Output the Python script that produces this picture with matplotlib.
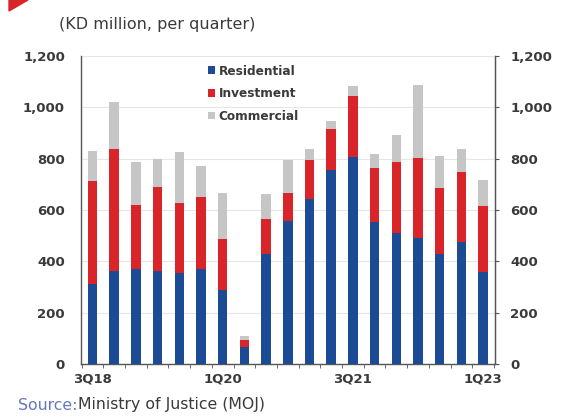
import matplotlib
matplotlib.use("Agg")
import matplotlib.pyplot as plt
from matplotlib.patches import Polygon
import numpy as np

quarters = ["3Q18", "4Q18", "1Q19", "2Q19", "3Q19", "4Q19", "1Q20", "2Q20", "3Q20", "4Q20",
            "1Q21", "2Q21", "3Q21", "4Q21", "1Q22", "2Q22", "3Q22", "4Q22", "1Q23"]
residential = [311, 363, 371, 363, 354, 370, 287, 68, 429, 559, 644, 757, 808, 552, 512, 491, 430, 474, 358]
investment = [402, 474, 249, 328, 274, 280, 199, 27, 137, 107, 150, 160, 237, 211, 276, 312, 257, 274, 256]
commercial = [117, 184, 167, 109, 198, 121, 180, 16, 95, 128, 45, 30, 38, 54, 103, 284, 122, 91, 101]
yticks = [0, 200, 400, 600, 800, 1000, 1200]
shown_labels = ["3Q18", "1Q20", "3Q21", "1Q23"]

c_res = "#1a4b94"
c_inv = "#d9252a"
c_com = "#c6c6c6"
txt = "#3a3a3a"

fig = plt.figure(figsize=(5.61, 4.18), dpi=100)
ax = fig.add_axes([81/561, 54/418, (495-81)/561, (364-56)/418])

x = np.arange(len(quarters))
res = np.array(residential)
inv = np.array(investment)
com = np.array(commercial)
w = 0.44
ax.bar(x, res, w, color=c_res, label="Residential", zorder=3)
ax.bar(x, inv, w, bottom=res, color=c_inv, label="Investment", zorder=3)
ax.bar(x, com, w, bottom=res + inv, color=c_com, label="Commercial", zorder=3)

ax.set_xlim(-0.53, len(quarters) - 1 + 0.55)
ax.set_ylim(0, 1200)
ax.set_yticks(yticks)
ax.set_yticklabels([f"{v:,}" for v in yticks], fontsize=9.5, color=txt, fontweight="bold")
ax.yaxis.grid(True, color="#e6e6e6", linewidth=0.8, zorder=0)
ax.set_axisbelow(True)

ax.set_xticks(x)
ax.set_xticklabels([q if q in shown_labels else "" for q in quarters], fontsize=9.5,
                   color=txt, fontweight="bold")
ax.tick_params(axis="x", length=0, pad=6)
ax.set_xticks(np.arange(-0.5, len(quarters), 1), minor=True)
ax.tick_params(axis="x", which="minor", length=3, color="#555555", direction="out")
ax.tick_params(axis="y", length=0, pad=11.5)

ax.spines["top"].set_visible(False)
for s in ["left", "right", "bottom"]:
    ax.spines[s].set_color("#555555")
    ax.spines[s].set_linewidth(1.0)

ax2 = ax.twinx()
ax2.set_ylim(0, 1200)
ax2.set_yticks(yticks)
ax2.set_yticklabels([f"{v:,}" for v in yticks], fontsize=9.5, color=txt, fontweight="bold")
ax2.tick_params(axis="y", length=3, color="#555555", direction="out", pad=8)
ax2.spines["top"].set_visible(False)
ax2.spines["left"].set_visible(False)
ax2.spines["bottom"].set_visible(False)
ax2.spines["right"].set_color("#555555")

leg = ax.legend(loc="upper left", bbox_to_anchor=(0.295, 0.988), frameon=False,
                prop={"size": 8.7, "weight": "bold"},
                handlelength=0.6, handleheight=0.6, handletextpad=0.3, labelspacing=0.8,
                borderaxespad=0)
for t in leg.get_texts():
    t.set_color(txt)

fig.text(59/561, 1 - 24/418, "(KD million, per quarter)", fontsize=11.5, color=txt, va="center", ha="left")
fig.text(18/561, 1 - 405/418, "Source:", fontsize=11.3, color="#6678c0", va="center", ha="left")
fig.text(78/561, 1 - 405/418, "Ministry of Justice (MOJ)", fontsize=11.3, color=txt, va="center", ha="left")

tri = Polygon([(9/561, 1.0), (28/561, 1.0), (9/561, 1 - 11/418)], closed=True,
              transform=fig.transFigure, color="#d9252a")
fig.patches.append(tri)

fig.savefig("out.png", dpi=100)
